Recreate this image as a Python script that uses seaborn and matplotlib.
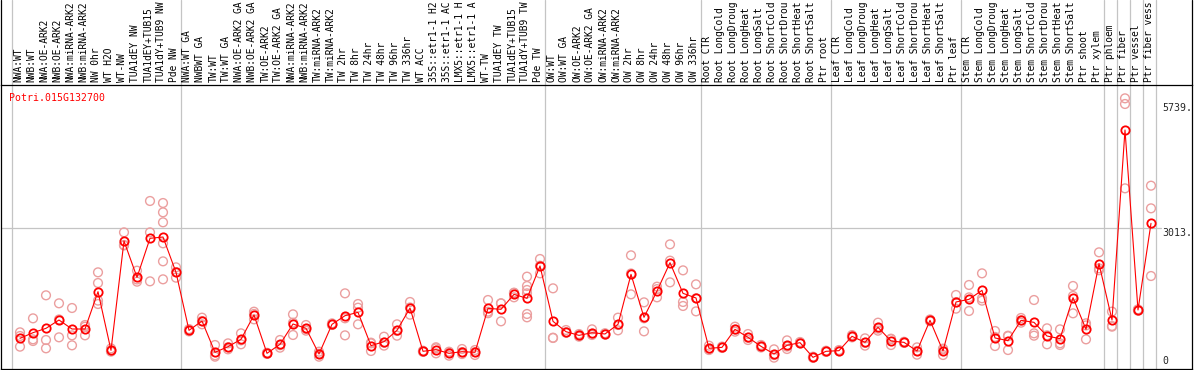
import numpy as np
import pandas as pd
import matplotlib
matplotlib.use("Agg")
import matplotlib.pyplot as plt
import seaborn as sns
from matplotlib.lines import Line2D
from matplotlib.transforms import blended_transform_factory

gene = "Potri.015G132700"

# sample labels as they appear (truncated) in the chart header
samples = [
    "NWA:WT", "NWB:WT", "NWA:OE-ARK2", "NWB:OE-ARK2", "NWA:miRNA-ARK2", "NWB:miRNA-ARK2",
    "NW 0hr", "WT H2O", "WT-NW", "TUA1dEY NW", "TUA1dEY+TUB15", "TUA1dY+TUB9 NW", "Pde NW",
    "NWA:WT GA", "NWBWT GA", "TW:WT", "TW:WT GA", "NWA:OE-ARK2 GA", "NWB:OE-ARK2 GA",
    "TW:OE-ARK2", "TW:OE-ARK2 GA", "NWA:miRNA-ARK2", "NWB:miRNA-ARK2", "TW:miRNA-ARK2",
    "TW:miRNA-ARK2", "TW 2hr", "TW 8hr", "TW 24hr", "TW 48hr", "TW 96hr", "TW 336hr",
    "WT ACC", "35S::etr1-1 H2", "35S::etr1-1 AC", "LMX5::etr1-1 H", "LMX5::etr1-1 A",
    "WT-TW", "TUA1dEY TW", "TUA1dEY+TUB15", "TUA1dY+TUB9 TW", "Pde TW",
    "OW:WT", "OW:WT GA", "OW:OE-ARK2", "OW:OE-ARK2 GA", "OW:miRNA-ARK2", "OW:miRNA-ARK2",
    "OW 2hr", "OW 8hr", "OW 24hr", "OW 48hr", "OW 96hr", "OW 336hr",
    "Root CTR", "Root LongCold", "Root LongDroug", "Root LongHeat", "Root LongSalt",
    "Root ShortCold", "Root ShortDrou", "Root ShortHeat", "Root ShortSalt", "Ptr root",
    "Leaf CTR", "Leaf LongCold", "Leaf LongDroug", "Leaf LongHeat", "Leaf LongSalt",
    "Leaf ShortCold", "Leaf ShortDrou", "Leaf ShortHeat", "Leaf ShortSalt", "Ptr leaf",
    "Stem CTR", "Stem LongCold", "Stem LongDroug", "Stem LongHeat", "Stem LongSalt",
    "Stem ShortCold", "Stem ShortDrou", "Stem ShortHeat", "Stem ShortSalt", "Ptr shoot",
    "Ptr xylem", "Ptr phloem", "Ptr fiber", "Ptr vessel", "Ptr fiber vess",
]

means = [
    619, 742, 837, 1018, 822, 822, 1634, 358, 2737, 1946, 2795, 2823, 2055,
    793, 996, 315, 438, 597, 1127, 293, 489, 931, 837, 278, 924, 1112, 1185, 460,
    547, 793, 1279, 337, 373, 293, 329, 315, 1272, 1250, 1576, 1489, 2193,
    989, 764, 684, 742, 714, 924, 2011, 1076, 1649, 2265, 1598, 1497,
    402, 423, 815, 641, 445, 278, 467, 525, 206, 337,
    351, 663, 532, 859, 561, 532, 344, 1011, 344, 1410,
    1468, 1663, 627, 569, 1011, 967, 670, 612, 1504, 815, 2244,
    1018, 5151, 1236, 3121,
]

replicates = [
    [750, 438, 670], [1054, 597, 561], [1555, 583, 402], [1381, 641, 1030], [1279, 684, 467],
    [873, 684, 909], [2055, 1823, 1440, 1366], [400, 330, 345], [2925, 2650, 2640],
    [2091, 1852, 1900], [3607, 2925, 1859], [3563, 3360, 3143, 2686, 2294, 1903],
    [2164, 1939, 2060],
    [820, 770, 790], [1069, 924, 996], [474, 220, 250], [510, 380, 425], [728, 489, 575],
    [1199, 1032, 1150], [293, 280, 305], [583, 416, 470], [1141, 692, 960], [909, 786, 820],
    [329, 220, 285], [945, 910, 915], [1598, 684, 1055], [1366, 1286, 924], [510, 344, 525],
    [655, 460, 525], [924, 677, 780], [1410, 1134, 1290], [350, 325, 335], [402, 293, 425],
    [329, 242, 310], [387, 278, 320], [365, 257, 320], [1453, 1199, 1165], [1381, 989, 1380],
    [1613, 1511, 1605], [1961, 1758, 1671, 1598, 1149, 1076], [2345, 2033, 2200],
    [1707, 627, 633], [800, 742, 750], [713, 655, 685], [815, 692, 720], [714, 700, 730],
    [1069, 793, 910], [2425, 1576, 2030], [1402, 771, 1055], [1743, 1511, 1690],
    [2664, 2309, 1837], [2098, 1410, 1323], [1794, 1206, 1490],
    [460, 365, 380], [440, 410, 420], [873, 764, 810], [713, 583, 630], [475, 420, 440],
    [380, 199, 255], [575, 387, 440], [540, 510, 525], [220, 195, 205], [350, 325, 335],
    [365, 340, 350], [690, 640, 660], [619, 460, 520], [960, 786, 830], [612, 474, 600],
    [545, 520, 530], [423, 264, 345], [1030, 990, 1010], [395, 257, 380], [1562, 1265, 1405],
    [1780, 1214, 1510], [2033, 1490, 1439], [779, 452, 650], [677, 365, 665],
    [1062, 960, 1010], [1453, 728, 677], [837, 489, 685], [815, 511, 474],
    [1758, 1540, 1163], [946, 597, 900], [2490, 2142, 2100],
    [1200, 888, 873], [5840, 5717, 3882], [1250, 1220, 1240], [3940, 3447, 1975],
]

group_starts = [0, 13, 41, 53, 63, 73, 84, 85, 86, 87, 88]
y_ticks = [0, 3013, 5739]
y_tick_labels = ["0", "3013.", "5739."]

# ---------------------------------------------------------------- layout
W, H = 1194, 370
px_x0, px_step = 20.0, 13.0
px_zero, px_per_unit = 366.8, 0.04597
frame_l, frame_r, frame_t, frame_b = 1, 1192, 85, 369

def ix(px):
    return (px - px_x0) / px_step

def iv(py):
    return (px_zero - py) / px_per_unit

sns.set_style("white")
plt.rcParams["font.family"] = ["DejaVu Sans Mono", "DejaVu Sans"]

fig = plt.figure(figsize=(W / 100, H / 100), dpi=100)
ax = fig.add_axes([frame_l / W, (H - frame_b) / H, (frame_r - frame_l) / W,
                   (frame_b - frame_t) / H])
ax.set_xlim(ix(frame_l), ix(frame_r))
ax.set_ylim(iv(frame_b), iv(frame_t))
ax.set_xticks([])
ax.set_yticks([])
for s in ax.spines.values():
    s.set_color("black")
    s.set_linewidth(0.9)

grid_col = "#c4c4c4"
ext = 1 + frame_t / (frame_b - frame_t)
for g in group_starts:
    ax.axvline(g - 0.65, ymin=0, ymax=ext, color=grid_col, lw=0.9, clip_on=False, zorder=0)
ax.plot([ix(frame_l), ix(1161)], [y_ticks[1], y_ticks[1]], color=grid_col, lw=0.9, zorder=0)

fig.add_artist(Line2D([frame_l / W, frame_l / W], [(H - frame_t) / H, 1],
                      transform=fig.transFigure, color="black", lw=0.9))
fig.add_artist(Line2D([frame_r / W, frame_r / W], [(H - frame_t) / H, 1],
                      transform=fig.transFigure, color="black", lw=0.9))

idx = np.arange(len(samples))
rep_df = pd.DataFrame(
    [(i, v) for i, reps in enumerate(replicates) for v in reps],
    columns=["sample", "value"],
)
mean_df = pd.DataFrame({"sample": idx, "value": means})

sns.scatterplot(data=rep_df, x="sample", y="value", ax=ax, marker="o", s=40,
                facecolor="none", edgecolor="#eb9f9f", linewidth=1.0, zorder=2,
                legend=False)
sns.lineplot(data=mean_df, x="sample", y="value", ax=ax, color="red", lw=0.8,
             marker="o", markersize=6.0, markerfacecolor="none",
             markeredgecolor="red", markeredgewidth=1.3, zorder=3, legend=False)
ax.set_xlabel("")
ax.set_ylabel("")

trans = blended_transform_factory(ax.transData, ax.transAxes)
label_y = 1 + 2.5 / (frame_b - frame_t)
for i, lab in enumerate(samples):
    ax.text(i - 0.12, label_y, lab, rotation=90, ha="center", va="bottom",
            fontsize=6.95, color="black", transform=trans, clip_on=False)

ax.text(ix(9), iv(101), gene, color="red", fontsize=7.1, ha="left", va="baseline")

for v, lab in zip(y_ticks, y_tick_labels):
    if v == 0:
        ax.text(ix(1162), v + 15, lab, fontsize=7.1, ha="left", va="bottom")
    else:
        ax.text(ix(1162), v, lab, fontsize=7.1, ha="left", va="top")

fig.savefig("out.png", dpi=100)
